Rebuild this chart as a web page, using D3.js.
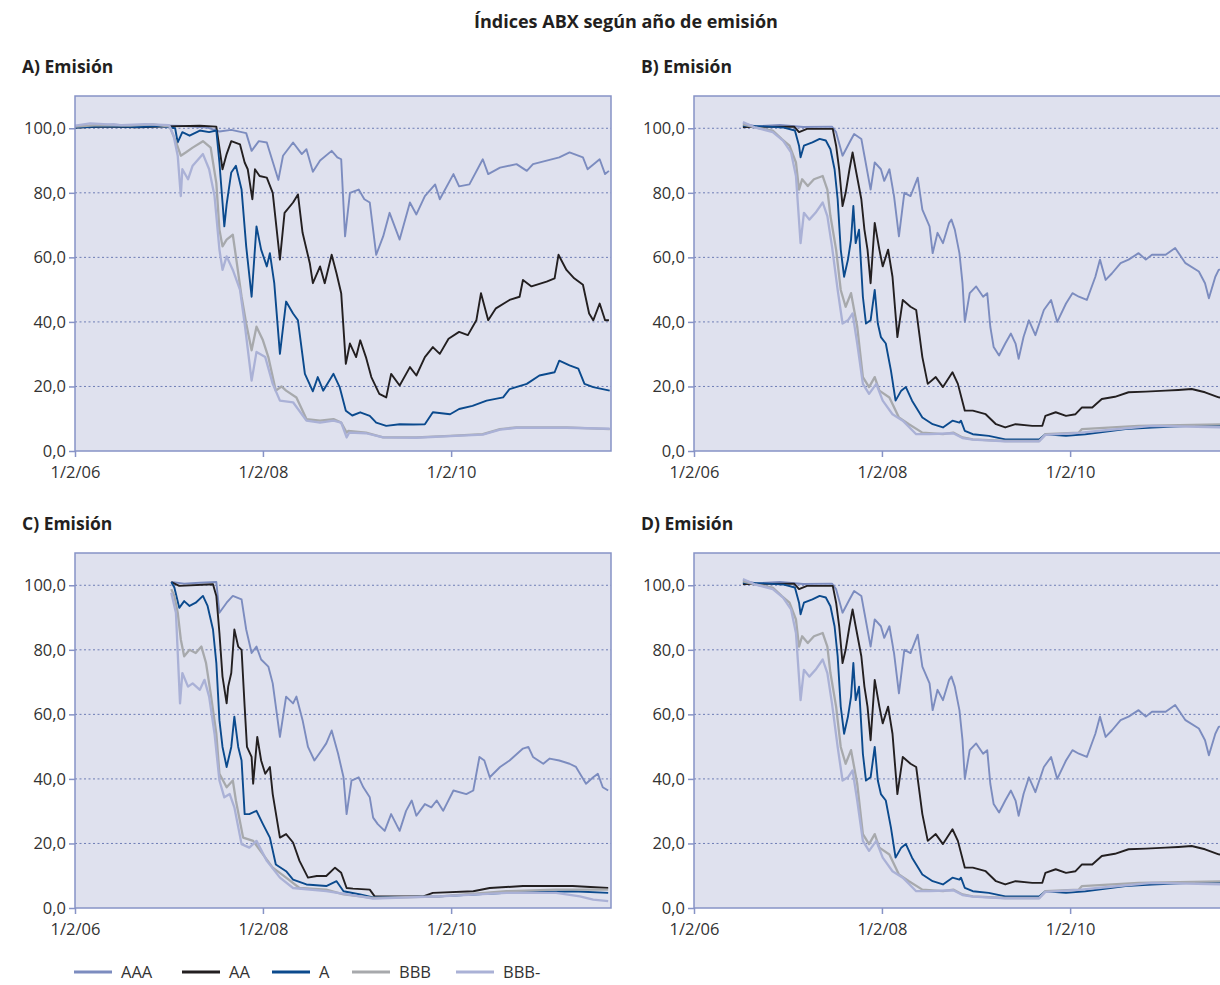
<!DOCTYPE html>
<html lang="es">
<head>
<meta charset="UTF-8">
<title>Índices ABX según año de emisión</title>
<script src="https://d3js.org/d3.v7.min.js"></script>
<style>
  body { margin: 0; background: #fff; }
  text { font-family: "Open Sans", "Noto Sans", sans-serif; fill: #333; }
  .ttl { font-weight: bold; fill: #231f20; }
</style>
</head>
<body>
<script>
// ---- data ----
const ratings = ["AAA", "AA", "A", "BBB", "BBB-"];
const colors  = ["#7c8cbf", "#231f20", "#0b4a8d", "#a7a9ac", "#aab1d6"];
const widths  = [1.9, 1.9, 1.9, 2.3, 2.3];
const yTicks = [0, 20, 40, 60, 80, 100];
const xTicks = ["2006-02-01", "2008-02-01", "2010-02-01"];
const xTickLabels = ["1/2/06", "1/2/08", "1/2/10"];

// Panel A
const aAAA = [["2006-02-01",100.3],["2006-04-01",100.8],["2006-07-01",101.2],["2006-10-01",100.6],["2007-01-01",100.9],["2007-04-01",100.7],["2007-07-01",100.2],["2007-08-16",99],["2007-10-01",99.5],["2007-11-28",98.5],["2007-12-19",93],["2008-01-16",96],["2008-02-16",95.6],["2008-04-01",84],["2008-04-19",91.5],["2008-05-28",95.6],["2008-07-01",92],["2008-07-19",93.5],["2008-08-13",86.5],["2008-09-10",90],["2008-10-25",93],["2008-11-16",91],["2008-12-01",90.4],["2008-12-16",66.5],["2009-01-04",80],["2009-02-07",81],["2009-03-01",78],["2009-03-22",77],["2009-04-16",60.8],["2009-05-13",66.5],["2009-06-07",73.8],["2009-07-16",65.5],["2009-08-25",77],["2009-09-19",73.3],["2009-10-22",79],["2009-12-01",82.6],["2009-12-19",78],["2010-02-10",85.8],["2010-03-04",82],["2010-04-13",82.6],["2010-06-04",90.4],["2010-06-25",85.8],["2010-08-10",87.8],["2010-10-13",88.9],["2010-11-22",86.8],["2010-12-16",88.9],["2011-02-07",90],["2011-03-28",91],["2011-05-07",92.5],["2011-06-28",91],["2011-07-16",87.3],["2011-09-01",90.4],["2011-09-22",85.8],["2011-10-07",86.8]];
const aAA = [["2006-02-01",100.2],["2006-06-01",100.5],["2006-10-01",100.3],["2007-02-01",100.6],["2007-06-01",100.8],["2007-08-04",100.5],["2007-08-28",87.3],["2007-09-13",92],["2007-10-01",96],["2007-11-04",95],["2007-11-22",89.4],["2007-12-04",87.3],["2007-12-22",78],["2008-01-01",87.3],["2008-01-19",85.2],["2008-02-16",84.7],["2008-03-10",80],["2008-04-07",59.3],["2008-04-25",73.8],["2008-05-28",77],["2008-06-16",79.5],["2008-07-04",67.6],["2008-08-01",58.2],["2008-08-13",52],["2008-09-10",57.2],["2008-09-28",52],["2008-10-25",60.8],["2008-11-13",55],["2008-12-01",48.9],["2008-12-19",27],["2009-01-04",33.3],["2009-01-28",29.1],["2009-02-13",34.3],["2009-03-07",29.1],["2009-03-28",22.9],["2009-04-28",17.7],["2009-05-25",16.6],["2009-06-13",23.9],["2009-07-16",20.3],["2009-08-25",26],["2009-09-19",23.4],["2009-10-22",29.1],["2009-11-22",32.2],["2009-12-19",30.1],["2010-01-22",34.8],["2010-03-04",36.9],["2010-04-07",35.9],["2010-05-10",40.5],["2010-05-28",48.9],["2010-06-25",40.5],["2010-07-25",44.2],["2010-09-16",46.8],["2010-10-25",47.8],["2010-11-07",53],["2010-12-10",51],["2011-02-07",52.5],["2011-03-10",53.5],["2011-03-25",60.8],["2011-04-25",56.1],["2011-05-25",53.5],["2011-06-28",51.5],["2011-07-22",42.6],["2011-08-07",40.5],["2011-09-01",45.7],["2011-09-22",40.5],["2011-10-07",40.5]];
const aA = [["2006-02-01",100.2],["2006-06-01",100.6],["2006-10-01",100.4],["2007-01-01",100.7],["2007-02-25",100],["2007-03-07",95.6],["2007-03-25",98.8],["2007-04-22",97.7],["2007-06-01",99.3],["2007-07-07",98.8],["2007-08-04",99.3],["2007-08-16",89.4],["2007-08-28",77],["2007-09-04",69.6],["2007-09-13",76.4],["2007-10-01",86.3],["2007-10-19",88.4],["2007-11-10",81],["2007-11-28",63.4],["2007-12-19",47.8],["2008-01-07",69.6],["2008-01-25",62.4],["2008-02-16",57.2],["2008-02-28",61.3],["2008-03-16",52],["2008-04-07",30.1],["2008-05-01",46.3],["2008-05-28",42.6],["2008-06-16",40.5],["2008-07-13",23.9],["2008-08-13",18.5],["2008-09-01",22.9],["2008-09-22",18.7],["2008-11-01",23.9],["2008-11-25",19.8],["2008-12-19",12.5],["2009-01-13",11],["2009-02-13",12],["2009-03-22",10.9],["2009-04-16",8.8],["2009-05-25",7.8],["2009-07-16",8.3],["2009-09-07",8.2],["2009-10-22",8.3],["2009-11-22",12],["2010-01-28",11.4],["2010-03-04",13],["2010-04-25",14],["2010-06-19",15.6],["2010-08-22",16.6],["2010-09-16",19.2],["2010-11-22",20.8],["2011-01-10",23.4],["2011-03-10",24.4],["2011-03-28",28],["2011-05-07",26.5],["2011-06-10",25.5],["2011-07-04",20.8],["2011-08-07",19.8],["2011-10-10",18.7]];
const aBBB = [["2006-02-01",100.5],["2006-05-01",101],["2006-09-01",100.8],["2006-12-01",101.2],["2007-02-04",100.5],["2007-03-01",95.6],["2007-03-19",91.5],["2007-04-07",92.5],["2007-05-04",94],["2007-06-13",96],["2007-07-13",94],["2007-08-04",83],["2007-08-16",68.6],["2007-08-28",63.4],["2007-09-13",65.5],["2007-10-07",67],["2007-10-19",60.3],["2007-11-10",47.8],["2007-11-28",39.5],["2007-12-19",31.2],["2008-01-07",38.5],["2008-02-01",34.3],["2008-02-22",29.1],["2008-03-22",18.7],["2008-04-13",20],["2008-05-01",18.7],["2008-06-10",16.6],["2008-07-19",9.9],["2008-09-10",9.4],["2008-11-01",9.9],["2008-12-01",8.8],["2008-12-22",5.7],["2008-12-28",6.2],["2009-03-07",5.7],["2009-05-13",4.2],["2009-09-19",4.2],["2010-01-28",4.7],["2010-06-04",5.2],["2010-08-10",6.8],["2010-10-13",7.3],["2011-04-25",7.3],["2011-10-10",6.8]];
const aBBBm = [["2006-02-01",100.8],["2006-04-01",101.5],["2006-08-01",101],["2006-11-01",101.3],["2007-02-01",101],["2007-02-19",97.7],["2007-03-07",91.5],["2007-03-19",79],["2007-03-25",87.3],["2007-04-16",84.2],["2007-05-04",88.4],["2007-06-13",92],["2007-07-07",87.3],["2007-07-28",79],["2007-08-16",62.4],["2007-08-28",56.1],["2007-09-13",60.3],["2007-10-07",56.1],["2007-11-04",49.9],["2007-11-22",39.5],["2007-12-19",21.8],["2008-01-07",30.7],["2008-02-10",29.1],["2008-03-10",20.8],["2008-04-07",15.6],["2008-05-28",15.1],["2008-07-19",9.4],["2008-09-10",8.8],["2008-11-01",9.4],["2008-12-01",8.8],["2008-12-22",4.2],["2009-01-01",5.7],["2009-03-07",5.5],["2009-05-13",4.2],["2009-09-19",4.1],["2010-01-28",4.6],["2010-06-04",5.1],["2010-08-10",6.6],["2010-10-13",7.2],["2011-04-25",7.2],["2011-10-10",6.9]];

// Panel B
const bAAA = [["2006-08-10",101.5],["2006-10-01",100.6],["2007-01-01",101],["2007-04-01",100.4],["2007-07-22",100.5],["2007-08-07",98.8],["2007-09-01",91.5],["2007-09-28",95.6],["2007-10-16",98.2],["2007-11-13",96.7],["2007-11-25",91.5],["2007-12-19",81],["2008-01-04",89.4],["2008-01-28",87.3],["2008-02-10",83.7],["2008-03-01",87.3],["2008-03-19",79],["2008-04-07",66.5],["2008-04-28",80],["2008-05-22",79],["2008-06-19",84.7],["2008-07-07",74.8],["2008-08-04",69.6],["2008-08-16",61.3],["2008-09-04",67.6],["2008-09-25",64.4],["2008-10-19",70.7],["2008-10-28",71.7],["2008-11-10",68.6],["2008-11-28",61.3],["2008-12-10",52],["2008-12-19",40],["2009-01-07",48.9],["2009-02-01",51],["2009-02-28",47.8],["2009-03-16",48.9],["2009-03-28",38.5],["2009-04-10",32.2],["2009-05-01",29.6],["2009-05-25",33.3],["2009-06-16",36.4],["2009-07-04",33.3],["2009-07-16",28.6],["2009-08-04",35.3],["2009-08-25",40.5],["2009-09-19",35.9],["2009-10-22",43.7],["2009-11-19",46.8],["2009-12-13",40],["2010-01-16",45.7],["2010-02-10",48.9],["2010-03-07",47.8],["2010-04-07",46.8],["2010-05-10",54],["2010-05-28",59.3],["2010-06-19",53],["2010-07-13",55],["2010-08-16",58.2],["2010-09-16",59.3],["2010-10-25",61.3],["2010-11-22",59.3],["2010-12-16",60.8],["2011-02-07",60.8],["2011-03-16",62.9],["2011-04-25",58.2],["2011-06-16",55.6],["2011-07-10",52],["2011-07-25",47.3],["2011-08-19",54],["2011-09-01",56.1],["2011-10-10",57]];
const bAA = [["2006-08-10",100.4],["2007-02-25",100.5],["2007-03-16",98.8],["2007-04-16",99.8],["2007-07-25",99.8],["2007-08-07",94.6],["2007-08-19",87.3],["2007-09-01",75.9],["2007-09-13",80],["2007-09-28",87.3],["2007-10-10",92.5],["2007-10-22",87.3],["2007-11-13",78],["2007-11-25",68.6],["2007-12-07",62.4],["2007-12-19",52],["2008-01-04",70.7],["2008-01-22",62.4],["2008-02-04",57.2],["2008-02-25",62.4],["2008-03-13",54],["2008-04-01",35.3],["2008-04-22",46.8],["2008-05-22",44.7],["2008-06-13",43.7],["2008-07-07",29.1],["2008-07-28",20.8],["2008-08-28",22.9],["2008-09-25",19.8],["2008-11-01",24.4],["2008-11-22",20.8],["2008-12-19",12.5],["2009-01-19",12.5],["2009-03-10",11.4],["2009-04-19",8.3],["2009-05-25",7.3],["2009-07-04",8.3],["2009-09-07",7.8],["2009-10-16",7.8],["2009-10-28",10.9],["2009-12-07",12],["2010-01-16",10.9],["2010-02-22",11.4],["2010-03-19",13.5],["2010-04-28",13.5],["2010-06-04",16.1],["2010-07-25",16.8],["2010-09-16",18.2],["2010-11-22",18.4],["2011-02-07",18.7],["2011-03-28",18.9],["2011-05-19",19.2],["2011-07-10",18.2],["2011-09-01",16.6],["2011-10-10",16.3]];
const bA = [["2006-08-10",100.8],["2006-11-01",100.6],["2007-01-16",100.2],["2007-02-28",99.3],["2007-03-16",94.6],["2007-03-22",91],["2007-04-04",94.6],["2007-05-07",95.6],["2007-06-04",96.7],["2007-06-28",96.2],["2007-07-16",93.5],["2007-08-01",87.3],["2007-08-13",78],["2007-08-25",62.4],["2007-09-07",54],["2007-09-22",59.3],["2007-10-04",65.5],["2007-10-13",75.9],["2007-10-22",64.4],["2007-11-04",68.6],["2007-11-19",47.8],["2007-12-01",39.5],["2007-12-19",40.5],["2008-01-04",49.9],["2008-01-16",39.5],["2008-01-28",35.3],["2008-02-16",33.3],["2008-03-07",24.9],["2008-03-25",15.6],["2008-04-16",18.7],["2008-05-04",19.8],["2008-05-28",15.6],["2008-07-07",10.4],["2008-08-16",8.3],["2008-09-25",7.3],["2008-11-01",9.4],["2008-11-28",8.8],["2008-12-04",9.4],["2008-12-19",6.2],["2009-01-19",5.2],["2009-03-22",4.7],["2009-05-25",3.6],["2009-10-04",3.6],["2009-10-28",5.2],["2010-01-16",4.7],["2010-04-01",5.2],["2010-09-04",6.8],["2010-12-16",7.3],["2011-05-19",7.8],["2011-10-10",7.8]];
const bBBB = [["2006-08-10",101.2],["2006-09-25",100.3],["2006-12-04",99.3],["2007-01-07",96.7],["2007-02-07",94.6],["2007-03-04",89.4],["2007-03-16",81],["2007-03-28",84.2],["2007-04-19",82.1],["2007-05-13",84.2],["2007-06-16",85.2],["2007-07-04",81],["2007-07-16",72.8],["2007-08-07",62.4],["2007-08-25",49.9],["2007-09-13",44.7],["2007-10-04",48.9],["2007-10-16",43.7],["2007-10-28",38.5],["2007-11-19",22.9],["2007-12-13",19.8],["2008-01-04",22.9],["2008-01-22",18.7],["2008-03-01",16.6],["2008-04-07",10.4],["2008-05-16",8.3],["2008-07-07",5.7],["2008-09-25",5.2],["2008-11-04",5.7],["2008-12-10",4.2],["2009-01-19",3.6],["2009-05-25",3.1],["2009-10-04",3.1],["2009-10-28",5.2],["2010-03-07",5.7],["2010-03-19",6.8],["2010-10-25",7.8],["2011-10-10",8.3]];
const bBBBm = [["2006-08-10",101.9],["2006-09-25",100.3],["2006-12-04",98.8],["2007-01-13",96.2],["2007-02-13",92.5],["2007-03-04",85.2],["2007-03-22",64.4],["2007-04-04",73.8],["2007-04-25",71.7],["2007-05-19",73.8],["2007-06-16",77],["2007-07-04",72.8],["2007-07-22",63.4],["2007-08-13",49.9],["2007-09-01",39.5],["2007-09-22",40.5],["2007-10-10",42.6],["2007-10-28",33.3],["2007-11-19",20.8],["2007-12-13",17.7],["2008-01-10",20.8],["2008-02-04",15.6],["2008-03-13",11.4],["2008-04-22",9.4],["2008-06-13",5.2],["2008-08-04",5.2],["2008-11-04",5.5],["2008-12-10",4],["2009-01-19",3.5],["2009-05-25",3],["2009-10-04",3],["2009-10-28",5],["2010-03-07",5.6],["2010-05-19",6.2],["2010-12-16",7.8],["2011-10-10",7.3]];

// Panel C
const cAAA = [["2007-02-10",101],["2007-04-01",100.5],["2007-06-01",100.8],["2007-08-04",101],["2007-08-16",91.5],["2007-09-13",94.6],["2007-10-07",96.7],["2007-11-10",95.6],["2007-11-28",86.3],["2007-12-19",79],["2008-01-07",81],["2008-01-25",77],["2008-02-22",74.8],["2008-03-10",69.6],["2008-04-07",53],["2008-05-01",65.5],["2008-05-28",63.4],["2008-06-10",65.5],["2008-07-04",58.2],["2008-07-25",49.9],["2008-08-19",45.7],["2008-09-16",48.9],["2008-10-04",51],["2008-10-25",55],["2008-11-19",47.8],["2008-12-10",40.5],["2008-12-22",29.1],["2009-01-10",39.5],["2009-02-07",40.5],["2009-02-25",37.4],["2009-03-22",34.3],["2009-04-04",28],["2009-04-22",26],["2009-05-19",23.9],["2009-06-13",29.1],["2009-07-16",23.9],["2009-08-10",30.1],["2009-09-01",33.3],["2009-09-19",28.6],["2009-10-22",32.2],["2009-11-16",31.2],["2009-12-07",33.3],["2010-01-01",30.1],["2010-02-10",36.4],["2010-04-01",35.3],["2010-04-28",36.4],["2010-05-22",46.8],["2010-06-10",45.7],["2010-07-01",40.5],["2010-08-10",43.7],["2010-09-16",45.7],["2010-11-07",49.4],["2010-11-28",49.9],["2010-12-16",46.8],["2011-01-25",44.7],["2011-02-19",46.3],["2011-03-28",45.7],["2011-05-07",44.7],["2011-06-01",43.7],["2011-07-10",38.5],["2011-08-07",40.5],["2011-08-25",41.6],["2011-09-13",37.4],["2011-10-04",36.4]];
const cAA = [["2007-02-10",101],["2007-03-13",99.8],["2007-07-22",100.3],["2007-08-04",96.7],["2007-08-16",85.2],["2007-08-28",71.7],["2007-09-13",63.4],["2007-09-19",68.6],["2007-10-01",72.8],["2007-10-13",86.3],["2007-10-28",81],["2007-11-10",80],["2007-11-22",62.4],["2007-12-01",49.9],["2007-12-19",46.8],["2007-12-25",38.5],["2008-01-10",53],["2008-01-25",45.7],["2008-02-10",41.6],["2008-02-28",43.7],["2008-03-10",35.3],["2008-04-07",21.8],["2008-05-01",22.9],["2008-05-28",20.3],["2008-06-22",14.6],["2008-07-25",9.4],["2008-08-28",9.9],["2008-10-04",9.9],["2008-11-07",12.5],["2008-12-01",10.9],["2008-12-22",6.2],["2009-01-16",6],["2009-03-22",5.7],["2009-04-10",3.6],["2009-10-16",3.6],["2009-11-22",4.7],["2010-04-28",5.2],["2010-07-01",6.2],["2010-11-07",6.8],["2011-05-19",6.8],["2011-10-04",6.2]];
const cA = [["2007-02-10",101],["2007-02-22",99.3],["2007-03-13",93],["2007-04-01",95.1],["2007-04-22",93.6],["2007-05-16",94.6],["2007-06-13",96.7],["2007-07-01",93.6],["2007-07-22",86.3],["2007-08-04",75.9],["2007-08-16",58.2],["2007-08-28",49.9],["2007-09-13",43.7],["2007-10-01",49.9],["2007-10-13",59.3],["2007-10-28",49.9],["2007-11-10",45.7],["2007-11-22",29.1],["2007-12-10",29.1],["2008-01-07",30.1],["2008-02-01",26],["2008-02-28",21.8],["2008-03-22",13.5],["2008-05-01",11.4],["2008-05-28",8.8],["2008-07-19",7.3],["2008-10-04",6.8],["2008-11-13",8.3],["2008-12-10",5.2],["2009-02-13",4.2],["2009-04-04",3.3],["2009-12-19",3.6],["2010-09-04",4.7],["2011-05-19",5.2],["2011-10-04",4.7]];
const cBBB = [["2007-02-10",98.8],["2007-02-22",96.7],["2007-03-07",91.5],["2007-03-19",83.2],["2007-04-01",78],["2007-04-22",80],["2007-05-16",79],["2007-06-07",81],["2007-06-25",75.9],["2007-07-13",66.5],["2007-08-04",54],["2007-08-16",41.6],["2007-09-13",37.4],["2007-10-07",39.5],["2007-10-19",33.3],["2007-11-16",21.8],["2007-12-25",20.8],["2008-02-01",16.6],["2008-03-10",12.5],["2008-05-01",9.4],["2008-06-22",6.2],["2008-10-04",5.7],["2008-12-10",4.2],["2009-02-13",3.6],["2009-04-04",3.1],["2009-12-19",3.6],["2010-09-04",5.2],["2011-03-16",5.7],["2011-10-04",5.7]];
const cBBBm = [["2007-02-10",97.7],["2007-02-28",91.5],["2007-03-16",63.4],["2007-03-25",72.8],["2007-04-16",68.6],["2007-05-04",69.6],["2007-06-01",67.6],["2007-06-19",70.7],["2007-07-07",65.5],["2007-07-28",54],["2007-08-16",39.5],["2007-09-04",34.3],["2007-09-25",35.3],["2007-10-13",31.2],["2007-11-10",19.8],["2007-12-10",18.7],["2008-01-07",20.8],["2008-02-16",14.6],["2008-04-07",9.4],["2008-05-28",6.2],["2008-10-04",5.2],["2009-02-13",3.6],["2009-04-04",2.9],["2009-12-19",3.6],["2010-09-04",4.7],["2011-03-16",4.7],["2011-06-16",3.6],["2011-08-07",2.6],["2011-10-04",2.1]];

// Panel D reads identical to panel B in the picture
const dAAA = bAAA, dAA = bAA, dA = bA, dBBB = bBBB, dBBBm = bBBBm;

// ---- layout ----
const W = 1220, H = 985;
const plotW = 536, plotH = 355;
const panels = [
  { title: "A) Emisión", left: 75,  top: 96,  series: [aAAA, aAA, aA, aBBB, aBBBm] },
  { title: "B) Emisión", left: 694, top: 96,  series: [bAAA, bAA, bA, bBBB, bBBBm] },
  { title: "C) Emisión", left: 75,  top: 553, series: [cAAA, cAA, cA, cBBB, cBBBm] },
  { title: "D) Emisión", left: 694, top: 553, series: [dAAA, dAA, dA, dBBB, dBBBm] }
];

const parse = d3.timeParse("%Y-%m-%d");
const fmt = d3.formatLocale({ decimal: ",", thousands: ".", grouping: [3], currency: ["", "€"] }).format(".1f");
const borderCol = "#8793c6";

const svg = d3.select("body").append("svg")
    .attr("width", W).attr("height", H);

svg.append("text").attr("class", "ttl")
    .attr("x", 626).attr("y", 28)
    .attr("text-anchor", "middle")
    .style("font-size", "18px")
    .text("Índices ABX según año de emisión");

const x = d3.scaleTime()
    .domain([parse("2006-02-01"), parse("2011-10-15")])
    .range([0, plotW]);
const y = d3.scaleLinear().domain([0, 110]).range([plotH, 0]);

const line = d3.line()
    .x(d => x(parse(d[0])))
    .y(d => y(d[1]));

panels.forEach((p, pi) => {
  svg.append("text").attr("class", "ttl")
      .attr("x", p.left - 53).attr("y", p.top - 23)
      .style("font-size", "17.5px")
      .text(p.title);

  const g = svg.append("g").attr("transform", `translate(${p.left},${p.top})`);

  g.append("rect")
      .attr("width", plotW).attr("height", plotH)
      .attr("fill", "#dfe1ee");

  // dotted gridlines
  g.selectAll("line.grid")
    .data(yTicks.filter(v => v > 0))
    .enter().append("line")
      .attr("class", "grid")
      .attr("x1", 0).attr("x2", plotW)
      .attr("y1", d => y(d)).attr("y2", d => y(d))
      .attr("stroke", "#6e7db5")
      .attr("stroke-width", 1)
      .attr("stroke-dasharray", "2,2.5");

  g.append("clipPath").attr("id", "clip" + pi)
    .append("rect").attr("width", plotW).attr("height", plotH);

  const lines = g.append("g").attr("clip-path", `url(#clip${pi})`);
  p.series.forEach((s, si) => {
    lines.append("path")
        .datum(s)
        .attr("d", line)
        .attr("fill", "none")
        .attr("stroke", colors[si])
        .attr("stroke-width", widths[si])
        .attr("stroke-linejoin", "round");
  });

  g.append("rect")
      .attr("width", plotW).attr("height", plotH)
      .attr("fill", "none")
      .attr("stroke", borderCol)
      .attr("stroke-width", 1.5);

  const yAxis = g.append("g")
      .call(d3.axisLeft(y).tickValues(yTicks).tickFormat(fmt).tickSize(6).tickPadding(3));
  yAxis.select(".domain").remove();
  yAxis.selectAll("line").attr("stroke", borderCol).attr("stroke-width", 1.5);
  yAxis.selectAll("text").style("font-size", "16.5px").attr("fill", "#333");

  const xAxis = g.append("g").attr("transform", `translate(0,${plotH})`)
      .call(d3.axisBottom(x).tickValues(xTicks.map(parse))
        .tickFormat((d, i) => xTickLabels[i]).tickSize(6).tickPadding(9));
  xAxis.select(".domain").remove();
  xAxis.selectAll("line").attr("stroke", borderCol).attr("stroke-width", 1.5);
  xAxis.selectAll("text").style("font-size", "16.5px").attr("fill", "#333");
});

// legend
const leg = svg.append("g").attr("transform", "translate(74,972)");
const offs = [0, 108, 198, 278, 382];
ratings.forEach((r, i) => {
  const it = leg.append("g").attr("transform", `translate(${offs[i]},0)`);
  it.append("line").attr("x1", 0).attr("x2", 38)
      .attr("stroke", colors[i]).attr("stroke-width", 3);
  it.append("text").attr("x", 47).attr("y", 6)
      .style("font-size", "16.5px").text(r);
});
</script>
</body>
</html>
